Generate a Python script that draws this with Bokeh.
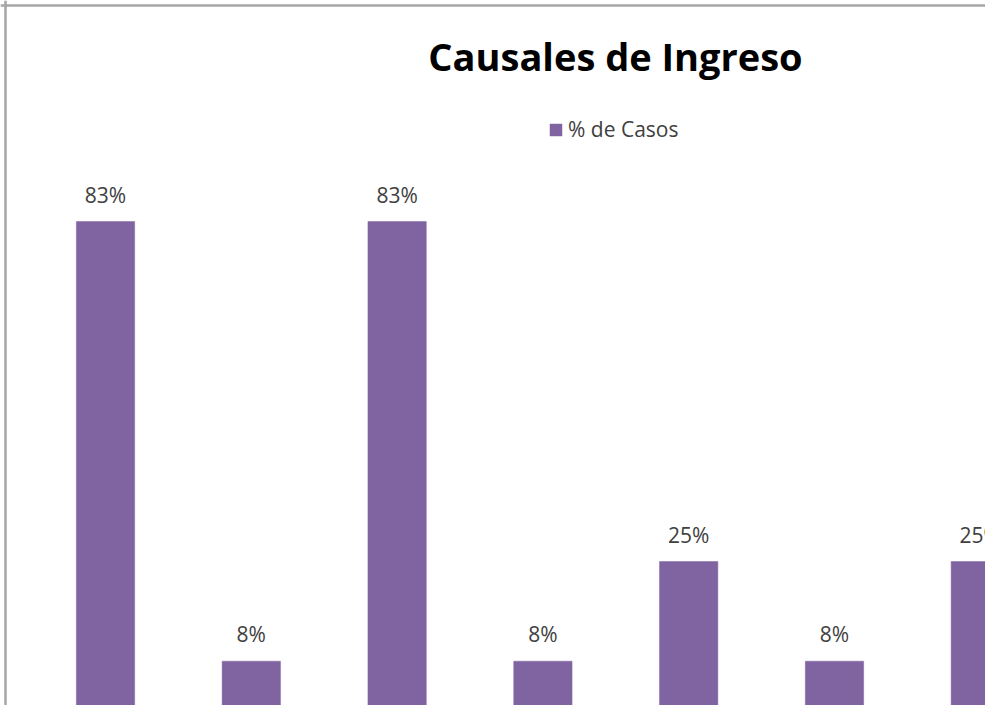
from bokeh.plotting import figure
from bokeh.models import Range1d, ColumnDataSource, LabelSet, Label, Legend, LegendItem, Span
from bokeh.core.properties import value
from bokeh.embed import file_html
from bokeh.resources import INLINE

# Data
categories = ["1", "2", "3", "4", "5", "6", "7"]
values = [0.83, 0.08, 0.83, 0.08, 0.25, 0.08, 0.25]
labels = ["83%", "8%", "83%", "8%", "25%", "8%", "25%"]
series_name = "% de Casos"
title_text = "Causales de Ingreso"

xs = list(range(len(categories)))
src = ColumnDataSource(dict(x=xs, top=values, label=labels))

X0, X1 = -0.7202, 6.0357
Y0, Y1 = 0.0044, 1.2071

p = figure(width=985, height=705, output_backend="svg", toolbar_location=None,
           x_range=Range1d(X0, X1), y_range=Range1d(Y0, Y1),
           min_border=0, min_border_left=0, min_border_right=0,
           min_border_top=0, min_border_bottom=0)
p.axis.visible = False
p.grid.visible = False
p.outline_line_color = None
p.background_fill_color = "white"
p.border_fill_color = "white"

bars = p.vbar(x="x", top="top", width=0.4, bottom=0, source=src,
              fill_color="#8064A2", line_color="#8064A2", line_width=0.5)

p.add_layout(LabelSet(x="x", y="top", text="label", source=src,
                      text_align="center", text_baseline="alphabetic", y_offset=19,
                      text_font=value("Open Sans"), text_font_size="21px", text_color="#404040"))

p.add_layout(Label(x=615, y=650, x_units="screen", y_units="screen", text=title_text,
                   text_align="center", text_baseline="alphabetic",
                   text_font="Open Sans", text_font_style="bold", text_font_size="38px",
                   text_color="#000000"))

legend = Legend(items=[LegendItem(label=series_name, renderers=[bars])],
                location=(548, 562), orientation="horizontal",
                glyph_width=15, glyph_height=15, label_standoff=5, label_height=24,
                label_text_font="Open Sans", label_text_font_size="21px", label_text_color="#404040",
                border_line_color=None, background_fill_alpha=0, padding=0, margin=0, spacing=0)
p.add_layout(legend, "center")

p.add_layout(Span(location=-0.686, dimension="height", line_color="#A6A6A6", line_width=2.5))
p.add_layout(Span(location=1.1986, dimension="width", line_color="#A6A6A6", line_width=2.5))

open("out.html", "w").write(file_html(p, INLINE))
